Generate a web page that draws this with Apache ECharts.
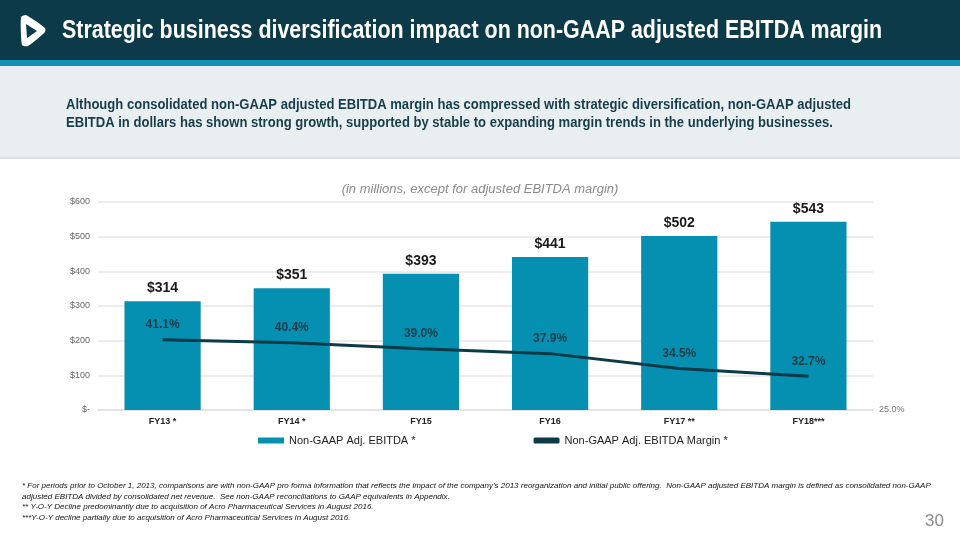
<!DOCTYPE html>
<html>
<head>
<meta charset="utf-8">
<script src="https://cdn.jsdelivr.net/npm/echarts@6/dist/echarts.min.js"></script>
<style>
html,body{margin:0;padding:0;background:#fff;}
#c{width:960px;height:540px;}
</style>
</head>
<body>
<div id="c"></div>
<script>
var categories = ['FY13 *', 'FY14 *', 'FY15', 'FY16', 'FY17 **', 'FY18***'];
var ebitda = [314, 351, 393, 441, 502, 543];
var margin = [41.1, 40.4, 39.0, 37.9, 34.5, 32.7];

var titleText = 'Strategic business diversification impact on non-GAAP adjusted EBITDA margin';
var subLine1 = 'Although consolidated non-GAAP adjusted EBITDA margin has compressed with strategic diversification, non-GAAP adjusted';
var subLine2 = 'EBITDA in dollars has shown strong growth, supported by stable to expanding margin trends in the underlying businesses.';
var chartNote = '(in millions, except for adjusted EBITDA margin)';
var footnotes = [
  '* For periods prior to October 1, 2013, comparisons are with non-GAAP pro forma information that reflects the impact of the company\u2019s 2013 reorganization and initial public offering.  Non-GAAP adjusted EBITDA margin is defined as consolidated non-GAAP',
  'adjusted EBITDA divided by consolidated net revenue.  See non-GAAP reconciliations to GAAP equivalents in Appendix.',
  '** Y-O-Y Decline predominantly due to acquisition of Acro Pharmaceutical Services in August 2016.',
  '***Y-O-Y decline partially due to acquisition of Acro Pharmaceutical Services in August 2016.'
];

var SANS = '"Liberation Sans",Arial,sans-serif';
var TITLE_FONT = 'bold 26px ' + SANS;
var SUB_FONT = 'bold 15px ' + SANS;

function measure(txt, font) {
  var cv = document.createElement('canvas').getContext('2d');
  cv.font = font;
  return cv.measureText(txt).width;
}
var titleScale = 820 / measure(titleText, TITLE_FONT);
var subScale = 785 / measure(subLine1, SUB_FONT);

var chart = echarts.init(document.getElementById('c'));

var graphics = [
  {type:'rect', shape:{x:0,y:0,width:960,height:60}, style:{fill:'#0c3a49'}, z:-1},
  {type:'rect', shape:{x:0,y:60,width:960,height:6}, style:{fill:'#1490b2'}, z:-1},
  {type:'rect', shape:{x:0,y:66,width:960,height:91}, style:{fill:'#e9eef0'}, z:-1},
  {type:'rect', shape:{x:0,y:157,width:960,height:2}, style:{fill:'#dde1e3'}, z:-1},
  {type:'polygon', shape:{points:[[21,17],[26,15],[45,28],[45,32],[28,46],[22,45]], smooth:0.2}, style:{fill:'#ffffff'}},
  {type:'polygon', shape:{points:[[26,24],[27,38],[37,31]]}, style:{fill:'#0c3a49'}},
  {type:'text', x:62, y:18, scaleX:titleScale, style:{text:titleText, fill:'#ffffff', font:TITLE_FONT}},
  {type:'text', x:66, y:97, scaleX:subScale, style:{text:subLine1, fill:'#173d4a', font:SUB_FONT}},
  {type:'text', x:66, y:115, scaleX:subScale, style:{text:subLine2, fill:'#173d4a', font:SUB_FONT}},
  {type:'text', left:'center', top:183, style:{text:chartNote, fill:'#8a8a8a', font:'italic 13px '+SANS}},
  {type:'text', right:16, top:513, style:{text:'30', fill:'#8a8a8a', font:'17px '+SANS}}
];
for (var i = 0; i < footnotes.length; i++) {
  graphics.push({type:'text', left:22, top:482 + i*10.5, style:{text:footnotes[i], fill:'#111', font:'italic 8px '+SANS}});
}

chart.setOption({
  animation:false,
  textStyle:{fontFamily:SANS},
  graphic:graphics,
  grid:{left:98, right:87, top:202, bottom:130, containLabel:false},
  legend:{
    bottom:89, left:253, itemGap:118, itemWidth:26, itemHeight:6,
    textStyle:{fontSize:11, color:'#222', fontFamily:SANS},
    data:[
      {name:'Non-GAAP Adj. EBITDA *', icon:'rect'},
      {name:'Non-GAAP Adj. EBITDA Margin *', icon:'roundRect', itemStyle:{color:'#0c3a49'}}
    ]
  },
  xAxis:{
    type:'category', data:categories,
    axisLine:{lineStyle:{color:'#e3e3e3', width:2}}, axisTick:{show:false},
    axisLabel:{color:'#222', fontSize:9, fontWeight:'bold', margin:7}
  },
  yAxis:[
    {type:'value', min:0, max:600, interval:100,
     axisLine:{show:false}, axisTick:{show:false},
     splitLine:{lineStyle:{color:'#e6e6e6', width:1.5}},
     axisLabel:{color:'#666', fontSize:9, margin:8, formatter:function(v){return v===0?'$-':'$'+v;}}},
    {type:'value', min:25, max:72.6, interval:47.6, position:'right',
     axisLine:{show:false}, axisTick:{show:false}, splitLine:{show:false},
     axisLabel:{color:'#777', fontSize:9, margin:6, formatter:function(v){return v===25?'25.0%':'';}}}
  ],
  series:[
    {name:'Non-GAAP Adj. EBITDA *', type:'bar', data:ebitda, barWidth:'59%',
     itemStyle:{color:'#058fb0'},
     label:{show:true, position:'top', distance:6, color:'#1a1a1a', fontSize:14, fontWeight:'bold',
            formatter:function(p){return '$'+p.value;}}},
    {name:'Non-GAAP Adj. EBITDA Margin *', type:'line', yAxisIndex:1, data:margin,
     symbol:'circle', symbolSize:0.1, showSymbol:true,
     lineStyle:{color:'#0c3a49', width:3}, itemStyle:{color:'#0c3a49'}, z:5,
     label:{show:true, position:'top', distance:9, color:'#173d4a', fontSize:12, fontWeight:'bold',
            formatter:function(p){return p.value.toFixed(1)+'%';}}}
  ]
});
</script>
</body>
</html>
